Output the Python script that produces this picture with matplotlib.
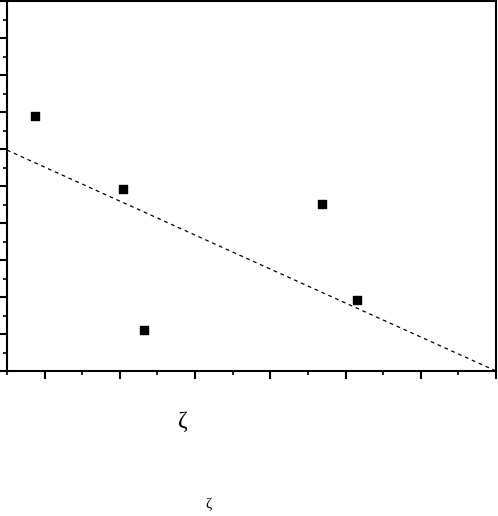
import numpy as np
import matplotlib
matplotlib.use("Agg")
import matplotlib.pyplot as plt
from matplotlib.ticker import MultipleLocator

# scattered points
pts_x = [0.87, 2.04, 2.32, 4.68, 5.15]
pts_y = [6.89, 4.92, 1.11, 4.51, 1.92]

# dashed trend line end points
fit_x = [0.5, 7.0]
fit_y = [5.97, 0.0]

fig = plt.figure(figsize=(4.98, 5.16), dpi=100)
ax = fig.add_axes([0.0141, 0.281, 0.982, 0.717])

ax.plot(fit_x, fit_y, color='black', lw=0.9, ls=(0, (3, 3)))
ax.scatter(pts_x, pts_y, marker='s', s=32, color='black', zorder=3)

ax.set_xlim(0.5, 7.0)
ax.set_ylim(0, 10)
ax.xaxis.set_major_locator(MultipleLocator(1))
ax.xaxis.set_minor_locator(MultipleLocator(0.5))
ax.yaxis.set_major_locator(MultipleLocator(1))
ax.yaxis.set_minor_locator(MultipleLocator(0.5))
ax.tick_params(which='major', direction='out', length=6, width=1.5,
               labelbottom=False, labelleft=False)
ax.tick_params(which='minor', direction='out', length=3, width=1.2)
for sp in ax.spines.values():
    sp.set_linewidth(1.5)

fig.text(183 / 498, 1 - 422 / 516, 'ζ', fontsize=17, ha='center', va='center',
         family=['Liberation Serif', 'DejaVu Serif'])
fig.text(208 / 498, 1 - 505 / 516, 'ζ', fontsize=11, ha='center', va='center',
         family=['Liberation Serif', 'DejaVu Serif'])

fig.savefig('out.png', dpi=100)
